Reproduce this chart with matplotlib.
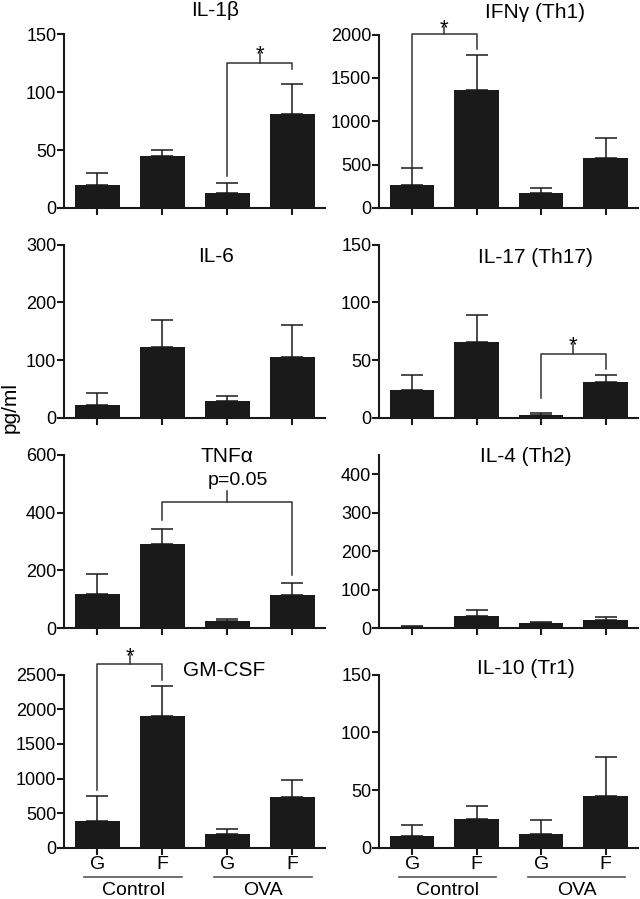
import matplotlib
matplotlib.use("Agg")
import matplotlib.pyplot as plt
import matplotlib.transforms as mtransforms

plt.rcParams['font.family'] = ['Liberation Sans', 'DejaVu Sans']

groups = ["G", "F", "G", "F"]
conditions = ["Control", "OVA"]

titles = ["IL-1β", "IFNγ (Th1)", "IL-6", "IL-17 (Th17)",
          "TNFα", "IL-4 (Th2)", "GM-CSF", "IL-10 (Tr1)"]

il1b_mean = [20, 45, 13, 81]
il1b_err = [10, 5, 9, 26]
ifng_mean = [264, 1364, 176, 578]
ifng_err = [192, 395, 50, 234]
il6_mean = [23, 123, 30, 106]
il6_err = [20, 47, 8, 55]
il17_mean = [24, 66, 3, 31]
il17_err = [13, 23, 1, 6]
tnfa_mean = [120, 292, 25, 116]
tnfa_err = [69, 52, 6, 41]
il4_mean = [4, 33, 13, 22]
il4_err = [1, 14, 3, 7]
gmcsf_mean = [394, 1899, 197, 740]
gmcsf_err = [351, 442, 72, 245]
il10_mean = [10, 25, 12, 45]
il10_err = [10, 11, 12, 34]

means = [il1b_mean, ifng_mean, il6_mean, il17_mean, tnfa_mean, il4_mean, gmcsf_mean, il10_mean]
errs = [il1b_err, ifng_err, il6_err, il17_err, tnfa_err, il4_err, gmcsf_err, il10_err]
ylims = [150, 2000, 300, 150, 600, 450, 2500, 150]
ytick_sets = [[0, 50, 100, 150], [0, 500, 1000, 1500, 2000], [0, 100, 200, 300],
              [0, 50, 100, 150], [0, 200, 400, 600], [0, 100, 200, 300, 400],
              [0, 500, 1000, 1500, 2000, 2500], [0, 50, 100, 150]]

# significance brackets: (panel, x1, x2, y_left_bottom, y_top, y_right_bottom, y_ticktop, label)
brackets = [
    (0, 2, 3, 28, 125.6, 120, 134, "*"),
    (1, 0, 1, 456, 2010, 1835, 2085, "*"),
    (3, 2, 3, 17.5, 55, 42, 63.6, "*"),
    (4, 1, 3, 373, 437, 183, 475, "p=0.05"),
    (6, 0, 1, 833, 2645, 2418, 2779, "*"),
]

W, H = 640, 899
fig = plt.figure(figsize=(6.4, 8.99), dpi=100)

col_left = [(64, 325), (379, 638)]
row_zero = [208, 418, 628.3, 848]
ax_h_px = 173.5
title_pos = [(215, 11), (535, 12), (216, 257), (535, 258),
             (227, 456), (526, 456), (224, 670), (526, 669)]

bar_color = "#1a1a1a"
lw = 1.5

axes = []
for i in range(8):
    r, c = divmod(i, 2)
    x0, x1 = col_left[c]
    y0 = row_zero[r]
    ax = fig.add_axes([x0 / W, 1 - y0 / H, (x1 - x0) / W, ax_h_px / H])
    axes.append(ax)
    xs = list(range(4))
    ax.bar(xs, means[i], width=0.69, color=bar_color, zorder=3)
    ax.errorbar(xs, means[i], yerr=[[0] * 4, errs[i]], fmt='none', ecolor=bar_color,
                elinewidth=1.1, capsize=8, capthick=1.1, zorder=2)
    ax.set_xlim(-0.515, 3.5)
    ax.set_ylim(0, ylims[i])
    ax.set_yticks(ytick_sets[i])
    ax.set_yticklabels([str(t) for t in ytick_sets[i]], fontsize=13)
    ax.set_xticks(xs)
    if r == 3:
        ax.set_xticklabels(groups, fontsize=14)
    else:
        ax.set_xticklabels([])
    for s in ['top', 'right']:
        ax.spines[s].set_visible(False)
    for s in ['left', 'bottom']:
        ax.spines[s].set_linewidth(lw)
        ax.spines[s].set_color(bar_color)
    ax.tick_params(axis='both', width=lw, length=5, color=bar_color, pad=1)
    ax.tick_params(axis='y', pad=0.5)
    fig.text(title_pos[i][0] / W, 1 - title_pos[i][1] / H, titles[i],
             ha='center', va='center', fontsize=15)

    if r == 3:
        trans = mtransforms.blended_transform_factory(ax.transData, ax.transAxes)
        for (a, b), name in zip([(-0.2, 1.3), (1.8, 3.3)], conditions):
            ax.plot([a, b], [-0.168, -0.168], color="#555555", lw=1.2,
                    transform=trans, clip_on=False)
            ax.text((a + b) / 2, -0.245, name, transform=trans, ha='center',
                    va='center', fontsize=14)

for (p, x1, x2, yl, yt, yr, ytk, lab) in brackets:
    ax = axes[p]
    ax.plot([x1, x1, x2, x2], [yl, yt, yt, yr], color="#333333", lw=1.1,
            clip_on=False, zorder=4)
    xm = (x1 + x2) / 2
    ax.plot([xm, xm], [yt, ytk], color="#333333", lw=1.1, clip_on=False, zorder=4)
    if lab == "*":
        ax.annotate(lab, (xm, ytk), xytext=(0, -5), textcoords='offset points',
                    ha='center', va='baseline', fontsize=16, annotation_clip=False)
    else:
        ax.annotate(lab, (xm + 0.16, ytk), xytext=(0, 4), textcoords='offset points',
                    ha='center', va='baseline', fontsize=14, annotation_clip=False)

fig.text(10 / W, 1 - 408 / H, "pg/ml", rotation=90, ha='center', va='center', fontsize=15)

fig.savefig("out.png", dpi=100)
